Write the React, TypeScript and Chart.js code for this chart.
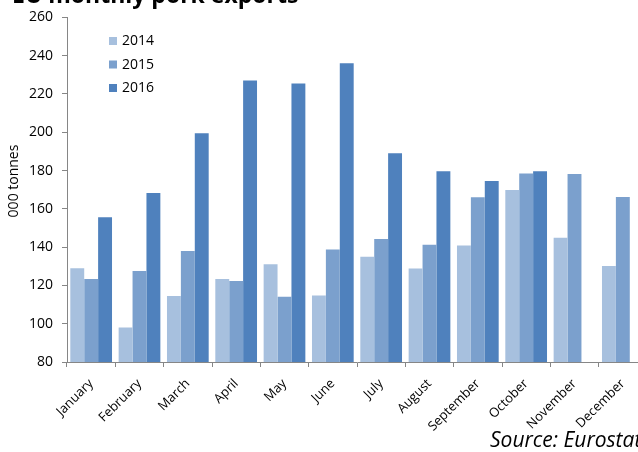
import React, { useEffect, useRef } from "react";
import { Chart, registerables } from "chart.js";

Chart.register(...registerables);

const months = [
  "January", "February", "March", "April", "May", "June",
  "July", "August", "September", "October", "November", "December",
];
const exports2014 = [129, 98, 114.5, 123.3, 131, 114.8, 135, 128.9, 140.9, 169.8, 144.9, 130.1];
const exports2015 = [123.3, 127.5, 138, 122.3, 114.1, 138.8, 144.2, 141.3, 166, 178.5, 178.2, 166.2];
const exports2016 = [155.6, 168.3, 199.5, 227.1, 225.5, 236.1, 189, 179.6, 174.5, 179.6, null, null];
const seriesLabels = ["2014", "2015", "2016"];
const seriesColors = ["#A7C0DE", "#7BA0CD", "#4F81BD"];
const yTicks = { min: 80, max: 260, step: 20 };
const titleText = "EU monthly pork exports";
const sourceText = "Source: Eurostat";
const yTitle = "000 tonnes";

const FONT = "'Open Sans', 'DejaVu Sans', sans-serif";

const decorPlugin = {
  id: "decor",
  afterDraw(chart: any) {
    const ctx = chart.ctx as CanvasRenderingContext2D;
    ctx.save();
    // Title (cut off at the top)
    ctx.fillStyle = "#000";
    ctx.textAlign = "left";
    ctx.textBaseline = "alphabetic";
    ctx.font = `bold 23px ${FONT}`;
    ctx.fillText(titleText, 12, 3);
    // Source
    ctx.font = `italic 21px ${FONT}`;
    ctx.fillText(sourceText, 490, 447);
    // Y axis title
    ctx.save();
    ctx.translate(14, 181);
    ctx.rotate(-Math.PI / 2);
    ctx.textAlign = "center";
    ctx.textBaseline = "middle";
    ctx.font = `14px ${FONT}`;
    ctx.fillText(yTitle, 0, 0);
    ctx.restore();
    // Legend
    const centers = [41, 64.5, 88];
    chart.data.datasets.forEach((ds: any, i: number) => {
      ctx.fillStyle = ds.backgroundColor;
      ctx.fillRect(109, centers[i] - 4, 8, 8);
      ctx.fillStyle = "#000";
      ctx.font = `14px ${FONT}`;
      ctx.textAlign = "left";
      ctx.textBaseline = "middle";
      ctx.fillText(ds.label, 122, centers[i] + 0.5);
    });
    ctx.restore();
  },
};

export default function App() {
  const ref = useRef<HTMLCanvasElement | null>(null);

  useEffect(() => {
    if (!ref.current) return;
    const data = [exports2014, exports2015, exports2016];
    const chart = new Chart(ref.current, {
      type: "bar",
      data: {
        labels: months,
        datasets: seriesLabels.map((label, i) => ({
          label,
          data: data[i],
          backgroundColor: seriesColors[i],
          borderWidth: 0,
          categoryPercentage: 0.863,
          barPercentage: 1,
        })),
      },
      options: {
        animation: false,
        responsive: false,
        devicePixelRatio: 1,
        layout: { padding: { left: 0, top: 17, right: 13, bottom: 0 } },
        plugins: {
          legend: { display: false },
          title: { display: false },
          tooltip: { enabled: false },
        },
        scales: {
          x: {
            grid: {
              drawOnChartArea: false,
              drawTicks: true,
              tickLength: 5,
              color: "#868686",
              offset: true,
            },
            border: { color: "#868686", width: 1 },
            ticks: {
              maxRotation: 45,
              minRotation: 45,
              autoSkip: false,
              color: "#000",
              font: { family: FONT, size: 13 },
              padding: 9,
            },
            afterFit(scale: any) {
              scale.height = 90;
            },
          },
          y: {
            min: yTicks.min,
            max: yTicks.max,
            ticks: {
              stepSize: yTicks.step,
              color: "#000",
              font: { family: FONT, size: 14 },
              padding: 9,
            },
            grid: {
              drawOnChartArea: false,
              drawTicks: true,
              tickLength: 5,
              color: "#868686",
            },
            border: { color: "#868686", width: 1 },
            afterFit(scale: any) {
              scale.width = 67;
            },
          },
        },
      },
      plugins: [decorPlugin],
    });
    return () => chart.destroy();
  }, []);

  return (
    <div
      style={{
        position: "fixed",
        left: 0,
        top: 0,
        width: 638,
        height: 452,
        overflow: "hidden",
        background: "#fff",
      }}
    >
      <canvas ref={ref} width={660} height={452} style={{ display: "block" }} />
    </div>
  );
}
